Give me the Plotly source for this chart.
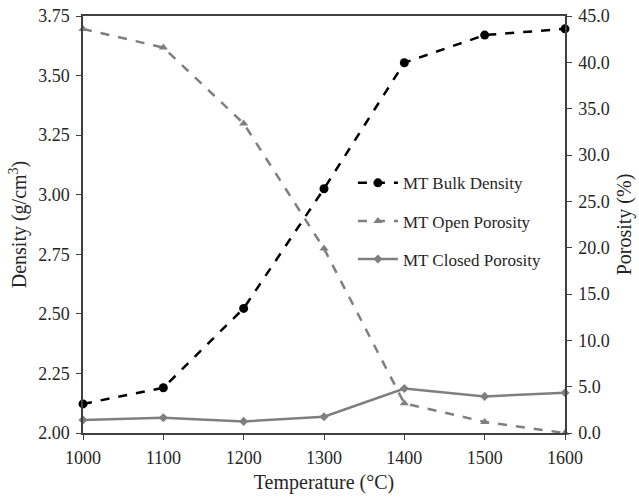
import plotly.graph_objects as go

temperature = [1000, 1100, 1200, 1300, 1400, 1500, 1600]
bulk_density = [2.122, 2.19, 2.523, 3.025, 3.554, 3.67, 3.696]
open_porosity = [43.6, 41.6, 33.4, 19.9, 3.2, 1.2, 0.0]
closed_porosity = [1.4, 1.65, 1.25, 1.75, 4.8, 3.95, 4.35]

FONT = "Liberation Serif"
GREY = "#7f7f7f"
TXT = "#262626"

fig = go.Figure()
fig.add_trace(go.Scatter(
    x=temperature, y=bulk_density, name="MT Bulk Density", mode="lines+markers",
    line=dict(color="black", width=2.5, dash="dash"),
    marker=dict(symbol="circle", size=9, color="black"),
    cliponaxis=False, legendgroup="a"))
fig.add_trace(go.Scatter(
    x=temperature, y=open_porosity, name="MT Open Porosity", mode="lines+markers",
    line=dict(color=GREY, width=2.5, dash="dash"),
    marker=dict(symbol="triangle-up", size=8, color=GREY),
    cliponaxis=False, yaxis="y2", legendgroup="b"))
fig.add_trace(go.Scatter(
    x=temperature, y=closed_porosity, name="MT Closed Porosity", mode="lines+markers",
    line=dict(color=GREY, width=2.5),
    marker=dict(symbol="diamond", size=7, color=GREY),
    cliponaxis=False, yaxis="y2", legendgroup="c"))

axis_common = dict(showline=True, linecolor="#404040", linewidth=1.5, ticks="outside",
                   tickcolor="#404040", ticklen=5, showgrid=False, zeroline=False,
                   ticklabelstandoff=3, automargin=False,
                   tickfont=dict(family=FONT, size=18, color=TXT))

fig.update_layout(
    width=639, height=497,
    margin=dict(l=83, r=74, t=16, b=64),
    paper_bgcolor="white", plot_bgcolor="white",
    font=dict(family=FONT, color=TXT),
    showlegend=True,
    legend=dict(x=0.56, y=0.642, xanchor="left", yanchor="top",
                font=dict(family=FONT, size=17, color=TXT), itemwidth=40,
                tracegroupgap=13, bgcolor="rgba(0,0,0,0)"),
    xaxis=dict(range=[1000, 1600], dtick=100, mirror=True,
               title=dict(text="Temperature (°C)", font=dict(family=FONT, size=20, color=TXT), standoff=8),
               **axis_common),
    yaxis=dict(range=[2.0, 3.75], dtick=0.25, tickformat=".2f",
               title=dict(text="Density (g/cm<sup>3</sup>)", font=dict(family=FONT, size=20, color=TXT), standoff=6),
               **axis_common),
    yaxis2=dict(range=[0, 45], dtick=5, tickformat=".1f", overlaying="y", side="right",
                title=dict(text="Porosity (%)", font=dict(family=FONT, size=20, color=TXT), standoff=8),
                **axis_common),
)

fig.write_html("out.html")
